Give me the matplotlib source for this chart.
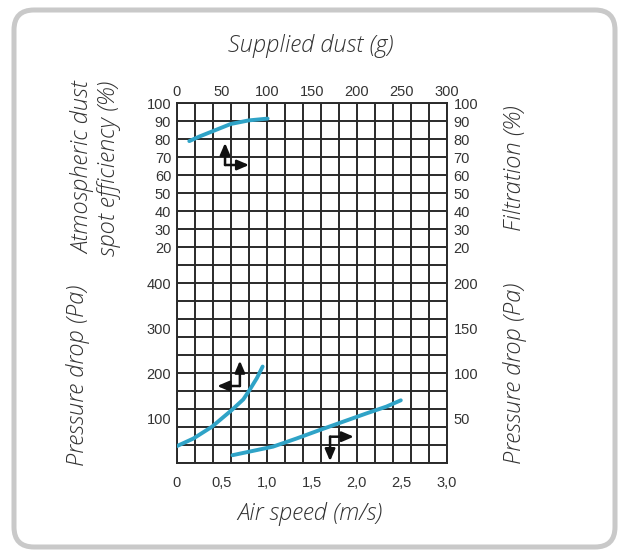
import matplotlib
matplotlib.use("Agg")
import matplotlib.pyplot as plt
from matplotlib.patches import FancyBboxPatch
from matplotlib.ticker import MultipleLocator, FixedLocator

# ---------------- data ----------------
dust_g = [14, 25, 40, 60, 80, 101]
efficiency_pct = [79, 81.5, 84.5, 88.5, 90.5, 91.5]

speed_left = [0, 0.185, 0.39, 0.61, 0.74, 0.81, 0.89, 0.955]
pressure_left_pa = [38, 55, 81, 118, 142, 163, 189, 215]

speed_right = [0.62, 1.07, 1.33, 1.59, 2.11, 2.33, 2.49]
pressure_right_pa = [9, 18.5, 27.5, 37, 55.5, 63, 70]

top_ticks = [0, 50, 100, 150, 200, 250, 300]
bottom_ticks = [0, 0.5, 1.0, 1.5, 2.0, 2.5, 3.0]
bottom_labels = ["0", "0,5", "1,0", "1,5", "2,0", "2,5", "3,0"]
eff_ticks = [20, 30, 40, 50, 60, 70, 80, 90, 100]
pl_ticks = [100, 200, 300, 400]
pr_ticks = [50, 100, 150, 200]

# ---------------- style ----------------
W, H = 623, 558
CURVE = "#2fa3c7"
GRIDC = "#2a2a2a"
TICKC = "#333333"
TEXTC = "#333333"
TICKFONT = dict(family="Liberation Sans", size=10.5)
LABELFONT = dict(family="Open Sans", style="italic", weight="light", size=17, color=TEXTC)

fig = plt.figure(figsize=(W / 100, H / 100), dpi=100)
fig.patch.set_facecolor("white")

# background frame (pixel coordinates)
bg = fig.add_axes([0, 0, 1, 1], zorder=-10)
bg.set_xlim(0, W)
bg.set_ylim(H, 0)
bg.axis("off")
bg.add_patch(FancyBboxPatch((14, 10), 601, 537,
                            boxstyle="round,pad=0,rounding_size=20",
                            fc="white", ec="#c9c9c9", lw=3.6))

rect = [176.7 / W, 1 - 463.3 / H, 270 / W, 360 / H]

def style_labels(labels):
    for lab in labels:
        lab.set_fontfamily(TICKFONT["family"])
        lab.set_fontsize(TICKFONT["size"])

# efficiency axes (top x = supplied dust, left y = efficiency) - carries the grid
ax = fig.add_axes(rect)
ax.set_xlim(0, 300)
ax.set_ylim(-100, 100)
ax.xaxis.set_major_locator(FixedLocator(top_ticks))
ax.xaxis.set_minor_locator(MultipleLocator(20))
ax.yaxis.set_major_locator(FixedLocator(eff_ticks))
ax.yaxis.set_minor_locator(MultipleLocator(10))
ax.xaxis.remove_overlapping_locs = False
ax.yaxis.remove_overlapping_locs = False
ax.grid(False, which="major")
ax.grid(True, which="minor", color=GRIDC, lw=1.4)
ax.xaxis.tick_top()
ax.tick_params(which="both", length=0)
ax.tick_params(axis="x", which="major", pad=3, labelcolor=TICKC)
ax.tick_params(axis="y", which="major", pad=4, labelcolor=TICKC)
style_labels(ax.get_xticklabels() + ax.get_yticklabels())
for s in ax.spines.values():
    s.set_color(GRIDC); s.set_linewidth(1.4)
ax.plot(dust_g, efficiency_pct, color=CURVE, lw=2.8, solid_capstyle="round", zorder=5)

# filtration (right, same scale)
sec = ax.secondary_yaxis("right")
sec.yaxis.set_major_locator(FixedLocator(eff_ticks))
sec.tick_params(length=0, pad=5, labelcolor=TICKC)
sec.spines["right"].set_visible(False)
style_labels(sec.get_yticklabels())

# left pressure axes (bottom x = air speed)
axl = fig.add_axes(rect, frameon=False)
axl.set_xlim(0, 3)
axl.set_ylim(0, 800)
axl.set_xticks(bottom_ticks)
axl.set_xticklabels(bottom_labels)
axl.set_yticks(pl_ticks)
axl.tick_params(length=0, labelcolor=TICKC)
axl.tick_params(axis="x", pad=9)
axl.tick_params(axis="y", pad=4)
style_labels(axl.get_xticklabels() + axl.get_yticklabels())
axl.plot(speed_left, pressure_left_pa, color=CURVE, lw=2.8, solid_capstyle="round", zorder=5)

# right pressure axes
axr = fig.add_axes(rect, frameon=False)
axr.set_xlim(0, 3)
axr.set_ylim(0, 400)
axr.set_xticks([])
axr.yaxis.tick_right()
axr.set_yticks(pr_ticks)
axr.tick_params(length=0, pad=5, labelcolor=TICKC)
style_labels(axr.get_yticklabels())
axr.plot(speed_right, pressure_right_pa, color=CURVE, lw=2.8, solid_capstyle="round", zorder=5)

# direction arrows (axes fraction)
ap = dict(arrowstyle="-|>,head_length=0.7,head_width=0.3", color="#111111", lw=1.8,
          shrinkA=0, shrinkB=0)
def L_arrow(corner, tips):
    for t in tips:
        axr.annotate("", xy=t, xytext=corner, xycoords="axes fraction",
                     textcoords="axes fraction", arrowprops=ap, zorder=6)

L_arrow((0.179, 0.8286), [(0.179, 0.890), (0.268, 0.8286)])
L_arrow((0.234, 0.2147), [(0.234, 0.285), (0.150, 0.2147)])
L_arrow((0.568, 0.0739), [(0.656, 0.0739), (0.568, 0.006)])

# axis titles
def ftext(x, y, s, rot=0):
    fig.text(x / W, 1 - y / H, s, ha="center", va="center", rotation=rot,
             linespacing=1.1, **LABELFONT)

ftext(311, 46, "Supplied dust (g)")
ftext(310, 514, "Air speed (m/s)")
ftext(96, 168, "Atmospheric dust\nspot efficiency (%)", rot=90)
ftext(78, 375, "Pressure drop (Pa)", rot=90)
ftext(515, 168, "Filtration (%)", rot=90)
ftext(515, 373, "Pressure drop (Pa)", rot=90)

fig.savefig("out.png", dpi=100)
